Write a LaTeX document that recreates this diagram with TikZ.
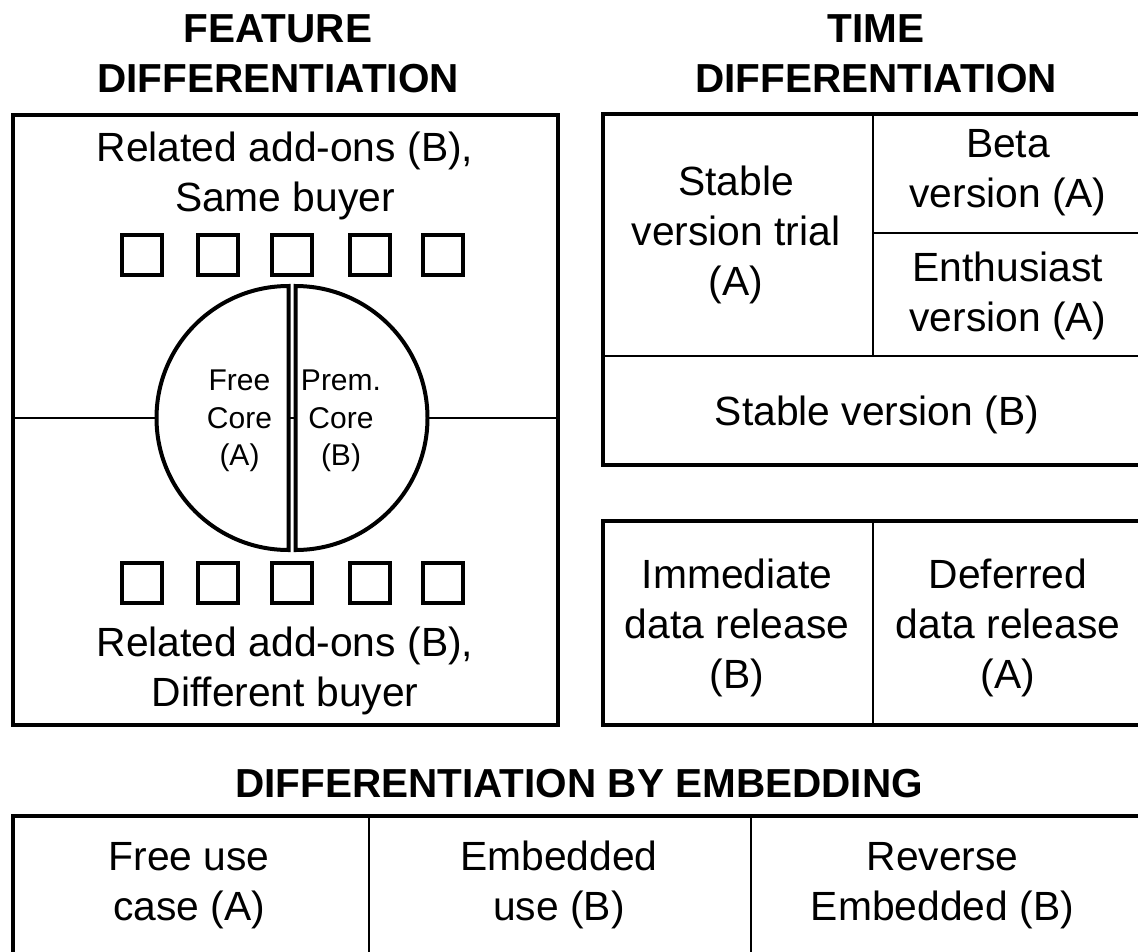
\documentclass[tikz,border=0pt]{standalone}
\usepackage{fontspec}
\setmainfont{Liberation Sans}
\begin{document}
\begin{tikzpicture}[x=1pt,y=-1pt,
  frame/.style={line width=4pt, line join=miter},
  rule/.style={line width=2pt},
  fine/.style={line width=1.5pt},
  % base anchor = baseline of the last line of a node
  heading/.style={font=\fontsize{40.5}{50}\selectfont\bfseries, align=center, inner sep=0pt, anchor=base},
  cell/.style={font=\fontsize{40.8}{50}\selectfont, align=center, inner sep=0pt, anchor=base},
  coretext/.style={font=\fontsize{30}{37.5}\selectfont, align=center, inner sep=0pt, anchor=base},
  addon/.style={draw, line width=4pt, minimum size=40pt, inner sep=0pt},
]
\useasboundingbox (0,0) rectangle (1138,951);
\clip (0,0) rectangle (1138,951);

% ---------- headings ----------
\node[heading] (featT) at (278,92) {FEATURE\\DIFFERENTIATION};
\node[heading] (timeT) at (876,92) {TIME\\DIFFERENTIATION};
\node[heading] (embT) at (579,797) {DIFFERENTIATION BY EMBEDDING};

% ---------- feature differentiation ----------
\draw[frame] (12.5,115) rectangle (558,725);
\coordinate (featL) at (12.5,418);
\coordinate (featR) at (558,418);
\coordinate (coreL) at (156.5,418);
\coordinate (coreR) at (427.5,418);
\coordinate (gapL) at (288.5,418);
\coordinate (gapR) at (295.5,418);
\draw[fine] (featL) -- (coreL);
\draw[fine] (coreR) -- (featR);
\draw[fine] (gapL) -- (gapR);
% the two halves of the core
\draw[frame] (288.5,286) arc[start angle=-90, end angle=-270, radius=132] -- cycle;
\draw[frame] (295.5,286) arc[start angle=-90, end angle=90, radius=132] -- cycle;
\node[coretext] (free) at (239.5,465.5) {Free\\Core\\(A)};
\node[coretext] (prem) at (341,465.5) {Prem.\\Core\\(B)};
% add-on boxes
\foreach \i/\x in {1/141.7,2/218.3,3/292,4/369.8,5/442.5}{
  \node[addon] (up\i) at (\x,255) {};
  \node[addon] (dn\i) at (\x,582.5) {};
}
\node[cell] (sameB) at (285,211) {Related add-ons (B),\\Same buyer};
\node[cell] (diffB) at (285,706) {Related add-ons (B),\\Different buyer};

% ---------- time differentiation: versions ----------
\draw[frame] (602.5,114) rectangle (1150,465);
\draw[rule] (873.3,114) -- (873.3,356);
\draw[rule] (873.3,232.7) -- (1150,232.7);
\draw[rule] (602.5,356) -- (1150,356);
\node[cell] (trial) at (736,295) {Stable\\version trial\\(A)};
\node[cell] (beta) at (1008,207) {Beta\\version (A)};
\node[cell] (enth) at (1008,331) {Enthusiast\\version (A)};
\node[cell] (stable) at (877,425) {Stable version (B)};

% ---------- time differentiation: data release ----------
\draw[frame] (602.5,520.5) rectangle (1150,725);
\draw[rule] (873.3,520.5) -- (873.3,725);
\node[cell] (immed) at (737,688) {Immediate\\data release\\(B)};
\node[cell] (defer) at (1008,688) {Deferred\\data release\\(A)};

% ---------- differentiation by embedding ----------
\draw[frame] (12.5,815.5) rectangle (1150,1000);
\draw[rule] (369.3,815.5) -- (369.3,1000);
\draw[rule] (750.7,815.5) -- (750.7,1000);
\node[cell] (freeuse) at (189,920) {Free use\\case (A)};
\node[cell] (embed) at (559,920) {Embedded\\use (B)};
\node[cell] (reverse) at (942.5,920) {Reverse\\Embedded (B)};
\end{tikzpicture}
\end{document}
